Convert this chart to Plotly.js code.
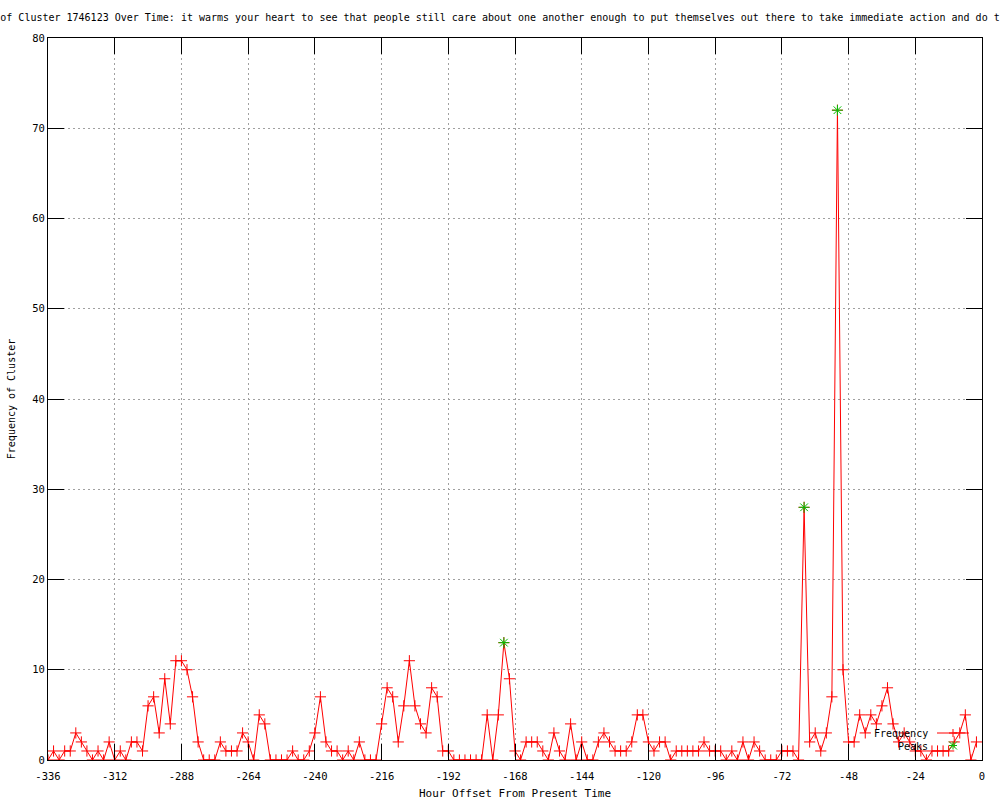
<!DOCTYPE html>
<html>
<head>
<meta charset="utf-8">
<script src="https://cdn.plot.ly/plotly-3.0.1.min.js"></script>
<style>html,body{margin:0;padding:0;background:#fff;}#chart{width:1000px;height:800px;}</style>
</head>
<body>
<div id="chart"></div>
<script>
// Hour offsets (x)
const hours = [
-336,-334,-332,-330,-328,-326,-324,-322,-320,-318,-316,-314,
-312,-310,-308,-306,-304,-302,-300,-298,-296,-294,-292,-290,
-288,-286,-284,-282,-280,-278,-276,-274,-272,-270,-268,-266,
-264,-262,-260,-258,-256,-254,-252,-250,-248,-246,-244,-242,
-240,-238,-236,-234,-232,-230,-228,-226,-224,-222,-220,-218,
-216,-214,-212,-210,-208,-206,-204,-202,-200,-198,-196,-194,
-192,-190,-188,-186,-184,-182,-180,-178,-176,-174,-172,-170,
-168,-166,-164,-162,-160,-158,-156,-154,-152,-150,-148,-146,
-144,-142,-140,-138,-136,-134,-132,-130,-128,-126,-124,-122,
-120,-118,-116,-114,-112,-110,-108,-106,-104,-102,-100,-98,
-96,-94,-92,-90,-88,-86,-84,-82,-80,-78,-76,-74,
-72,-70,-68,-66,-64,-62,-60,-58,-56,-54,-52,-50,
-48,-46,-44,-42,-40,-38,-36,-34,-32,-30,-28,-26,
-24,-22,-20,-18,-16,-14,-12,-10,-8,-6,-4,-2
];
// Frequency of cluster
const frequency = [
0,1,0,1,1,3,2,1,0,1,0,2,
0,1,0,2,2,1,6,7,3,9,4,11,
11,10,7,2,0,0,0,2,1,1,1,3,
2,0,5,4,0,0,0,0,1,0,0,1,
3,7,2,1,1,0,1,0,2,0,0,0,
4,8,7,2,6,11,6,4,3,8,7,1,
1,0,0,0,0,0,0,5,0,5,13,9,
1,0,2,2,2,1,0,3,1,0,4,0,
2,0,0,2,3,2,1,1,1,2,5,5,
2,1,2,2,0,1,1,1,1,1,2,1,
1,1,0,1,0,2,0,2,1,0,0,0,
1,1,1,0,28,2,3,1,3,7,72,10,
2,2,5,3,5,4,6,8,4,2,3,2,
1,1,0,1,1,1,1,2,3,5,0,2
];
// Peaks
const peakHours = [-172, -64, -52];
const peakValues = [13, 28, 72];

// Ticks
const xTickVals = [-336,-312,-288,-264,-240,-216,-192,-168,-144,-120,-96,-72,-48,-24,0];
const xTickText = ["-336","-312","-288","-264","-240","-216","-192","-168","-144","-120","-96","-72","-48","-24","0"];
const yTickVals = [0,10,20,30,40,50,60,70,80];
const yTickText = ["0","10","20","30","40","50","60","70","80"];

const titleText = "of Cluster 1746123 Over Time: it warms your heart to see that people still care about one another enough to put themselves out there to take immediate action and do t";
const legendNames = ["Frequency", "Peaks"];

const FONT = "DejaVu Sans Mono, Liberation Mono, monospace";
const RED = "#ff0000";
const GREEN = "#00c000";

const traces = [
  {
    x: hours, y: frequency, type: "scatter", mode: "lines+markers",
    name: legendNames[0],
    line: {color: RED, width: 1},
    marker: {symbol: "cross-thin-open", size: 8, color: RED, line: {color: RED, width: 1}},
    showlegend: false, hoverinfo: "x+y"
  },
  {
    x: peakHours, y: peakValues, type: "scatter", mode: "markers",
    name: legendNames[1],
    marker: {symbol: "asterisk-open", size: 9, color: GREEN, line: {color: GREEN, width: 1}},
    showlegend: false, hoverinfo: "x+y"
  }
];

// legend (gnuplot-style: text, then sample) in paper coordinates
const W = 934, H = 722;
const px = v => (v - 48) / W;     // pixel -> paper x
const py = v => (760 - v) / H;    // pixel -> paper y
function plusPath(cx, cy, r) {
  const dx = r / W, dy = r / H;
  const x = px(cx), y = py(cy);
  return `M ${x-dx},${y} L ${x+dx},${y} M ${x},${y-dy} L ${x},${y+dy}`;
}
function starPath(cx, cy, r) {
  const dx = r / W, dy = r / H;
  const x = px(cx), y = py(cy);
  return `M ${x-dx},${y} L ${x+dx},${y} M ${x},${y-dy} L ${x},${y+dy} M ${x-dx},${y-dy} L ${x+dx},${y+dy} M ${x-dx},${y+dy} L ${x+dx},${y-dy}`;
}

const layout = {
  width: 1000, height: 800,
  paper_bgcolor: "#ffffff", plot_bgcolor: "#ffffff",
  margin: {l: 48, r: 18, t: 38, b: 40, pad: 0},
  font: {family: FONT, size: 10, color: "#000"},
  showlegend: false,
  title: {
    text: titleText, font: {family: FONT, size: 10, color: "#000"},
    xref: "container", yref: "container", x: 0.5, xanchor: "center",
    y: 1 - 17/800, yanchor: "middle"
  },
  xaxis: {
    range: [-336, 0], tickmode: "array", tickvals: xTickVals, ticktext: xTickText,
    ticks: "inside", ticklen: 16, tickcolor: "#000", tickwidth: 1,
    ticklabelstandoff: 6,
    showline: true, linecolor: "#000", linewidth: 1, mirror: "ticks",
    showgrid: true, gridcolor: "#a0a0a0", griddash: "2px,3px", gridwidth: 1,
    zeroline: false, fixedrange: true,
    tickfont: {family: FONT, size: 10.5, color: "#000"},
    title: {text: "Hour Offset From Present Time", font: {family: FONT, size: 11, color: "#000"}, standoff: 8}
  },
  yaxis: {
    range: [0, 80], tickmode: "array", tickvals: yTickVals, ticktext: yTickText,
    ticks: "inside", ticklen: 16, tickcolor: "#000", tickwidth: 1,
    showline: true, linecolor: "#000", linewidth: 1, mirror: "ticks",
    showgrid: true, gridcolor: "#a0a0a0", griddash: "2px,3px", gridwidth: 1,
    zeroline: false, fixedrange: true,
    tickfont: {family: FONT, size: 10.5, color: "#000"},
    title: {text: "Frequency of Cluster", font: {family: FONT, size: 10, color: "#000"}, standoff: 14}
  },
  annotations: [
    {text: legendNames[0], xref: "paper", yref: "paper", x: px(930), y: py(733),
     xanchor: "right", yanchor: "middle", showarrow: false, font: {family: FONT, size: 10, color: "#000"}},
    {text: legendNames[1], xref: "paper", yref: "paper", x: px(930), y: py(746),
     xanchor: "right", yanchor: "middle", showarrow: false, font: {family: FONT, size: 10, color: "#000"}}
  ],
  shapes: [
    {type: "line", xref: "paper", yref: "paper", x0: px(937), x1: px(969), y0: py(733), y1: py(733),
     line: {color: RED, width: 1}},
    {type: "path", xref: "paper", yref: "paper", path: plusPath(953, 733, 4), line: {color: RED, width: 1}},
    {type: "path", xref: "paper", yref: "paper", path: starPath(953, 745.5, 4), line: {color: GREEN, width: 1}}
  ]
};

Plotly.newPlot("chart", traces, layout, {displayModeBar: false, staticPlot: true});
</script>
</body>
</html>
